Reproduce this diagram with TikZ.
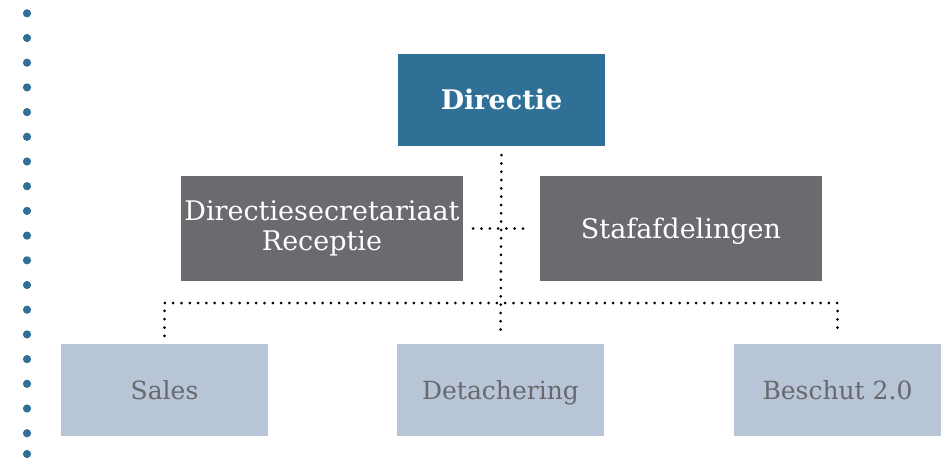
\documentclass[tikz,border=0pt]{standalone}
\usepackage{fontspec}
\setmainfont{DejaVu Serif}
\usetikzlibrary{positioning}
\definecolor{dirblue}{RGB}{48,112,150}
\definecolor{darkgrey}{RGB}{106,106,111}
\definecolor{lightblue}{RGB}{184,197,215}
\definecolor{greytext}{RGB}{104,104,109}
\tikzset{
  onerow/.style={text height=#1,text depth=0pt},
  topbox/.style={fill=dirblue,text=white,minimum width=207pt,minimum height=92pt,onerow=19.7pt,font=\fontsize{27}{30}\selectfont\bfseries},
  midbox/.style={fill=darkgrey,text=white,minimum width=282pt,minimum height=105pt,align=center,font=\fontsize{27}{30}\selectfont},
  lowbox/.style={fill=lightblue,text=greytext,minimum width=207pt,minimum height=92pt,onerow=18.2pt,font=\fontsize{25}{28}\selectfont},
  dotline/.style={line width=3pt,line cap=round,dash pattern=on 0pt off 8.3pt}
}
\begin{document}
\begin{tikzpicture}[x=1pt,y=-1pt]
\useasboundingbox (0,0) rectangle (947,459);
% blue dots on the left
\foreach \i in {0,...,17}
  \fill[dirblue] (27,13.3+24.7*\i) circle (4.1);
\fill[dirblue] (27,454) circle (4.1);
% boxes
\node[topbox] (dir) at (501.5,100) {Directie};
\node[midbox] (sec) at (322,228.5) {Directiesecretariaat\\Receptie};
\node[midbox,onerow=19.7pt] (staf) at (681,228.5) {Stafafdelingen};
\node[lowbox] (sales) at (164.5,390) {Sales};
\node[lowbox] (det) at (500.5,390) {Detachering};
\node[lowbox] (besch) at (837.5,390) {Beschut 2.0};
\coordinate (bus) at (500.5,303);
% dotted connectors
\draw[dotline] ([yshift=-9pt]dir.south) -- ([yshift=7pt]det.north);
\draw[dotline] ([xshift=10pt]sec.east) -- ([xshift=-10pt]staf.west);
\draw[dotline] ([yshift=8pt]sales.north) |- (bus) -| ([yshift=8pt]besch.north);
\end{tikzpicture}
\end{document}
